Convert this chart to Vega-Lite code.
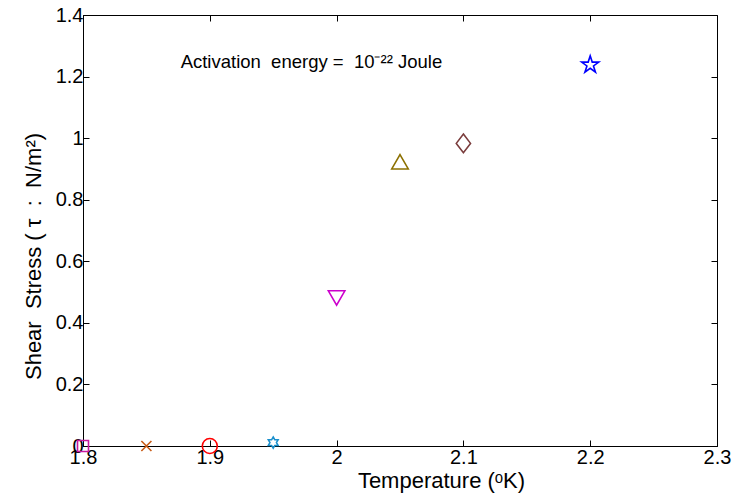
{
  "$schema": "https://vega.github.io/schema/vega-lite/v6.json",
  "width": 634,
  "height": 431,
  "autosize": {"type": "none"},
  "padding": {"left": 83, "top": 15, "right": 18, "bottom": 56},
  "background": "white",
  "config": {
    "view": {"stroke": "black", "strokeWidth": 1},
    "axis": {
      "domainColor": "black",
      "tickColor": "black",
      "labelColor": "black",
      "titleColor": "black",
      "labelFont": "Liberation Sans",
      "titleFont": "Liberation Sans",
      "labelFontSize": 20,
      "titleFontSize": 22,
      "titleFontWeight": "normal",
      "labelFlush": false,
      "grid": false,
      "tickSize": -6,
      "tickWidth": 1,
      "zindex": 1
    }
  },
  "resolve": {"axis": {"x": "independent", "y": "independent"}},
  "layer": [
    {
      "data": {
        "values": [
          {"T": 1.8, "tau": 0.0, "marker": "square"},
          {"T": 1.85, "tau": 0.0, "marker": "x"},
          {"T": 1.9, "tau": 0.0, "marker": "circle"},
          {"T": 1.95, "tau": 0.011, "marker": "hexagram"},
          {"T": 2.0, "tau": 0.487, "marker": "triangle-down"},
          {"T": 2.05, "tau": 0.917, "marker": "triangle-up"},
          {"T": 2.1, "tau": 0.983, "marker": "diamond"},
          {"T": 2.2, "tau": 1.238, "marker": "pentagram"}
        ]
      },
      "mark": {"type": "point", "filled": false, "strokeWidth": 1.6, "size": 225, "opacity": 1},
      "encoding": {
        "x": {
          "field": "T", "type": "quantitative",
          "scale": {"domain": [1.8, 2.3], "nice": false, "zero": false},
          "axis": {"orient": "bottom", "values": [1.8, 1.9, 2.0, 2.1, 2.2, 2.3], "format": "~g", "labelPadding": 7, "title": "Temperature (ᵒK)", "titleX": 358, "titleY": 34, "titleBaseline": "middle", "titleAlign": "center"}
        },
        "y": {
          "field": "tau", "type": "quantitative",
          "scale": {"domain": [0, 1.4], "nice": false},
          "axis": {"orient": "left", "values": [0, 0.2, 0.4, 0.6, 0.8, 1.0, 1.2, 1.4], "format": "~g", "labelPadding": 6, "title": "Shear\u00a0\u00a0Stress\u00a0(\u00a0τ\u00a0\u00a0:\u00a0\u00a0N/m²)", "titleX": -50, "titleY": 241, "titleBaseline": "middle", "titleAlign": "center", "titleAngle": -90}
        },
        "shape": {
          "field": "marker", "type": "nominal", "legend": null,
          "scale": {
            "domain": ["square", "x", "circle", "hexagram", "triangle-down", "triangle-up", "diamond", "pentagram"],
            "range": [
              "M-0.733,-0.733L0.733,-0.733L0.733,0.733L-0.733,0.733Z",
              "M-0.67,-0.67L0.67,0.67M-0.67,0.67L0.67,-0.67",
              "M1,0A1,1,0,1,1,-1,0A1,1,0,1,1,1,0Z",
              "M0,-0.75L0.2165,-0.375L0.6495,-0.375L0.433,0L0.6495,0.375L0.2165,0.375L0,0.75L-0.2165,0.375L-0.6495,0.375L-0.433,0L-0.6495,-0.375L-0.2165,-0.375Z",
              "M-1.1,-0.7L1.1,-0.7L0,1.2Z",
              "M0,-1.2L1.1,0.7L-1.1,0.7Z",
              "M0,-1.25L0.95,0L0,1.25L-0.95,0Z",
              "M0,-1.2L0.27,-0.372L1.141,-0.371L0.437,0.142L0.705,0.971L0,0.46L-0.705,0.971L-0.437,0.142L-1.141,-0.371L-0.27,-0.372Z"
            ]
          }
        },
        "color": {
          "field": "marker", "type": "nominal", "legend": null,
          "scale": {
            "domain": ["square", "x", "circle", "hexagram", "triangle-down", "triangle-up", "diamond", "pentagram"],
            "range": ["#C8189E", "#C85A14", "#FF0000", "#1A8FCC", "#CC00CC", "#8C7000", "#7A3C3C", "#0000FF"]
          }
        }
      }
    },
    {
      "data": {"values": [{"T": 1.877, "tau": 1.247, "label": "Activation\u00a0\u00a0energy\u00a0=\u00a0\u00a010⁻²²\u00a0Joule"}]},
      "mark": {"type": "text", "align": "left", "baseline": "middle", "font": "Liberation Sans", "fontSize": 18.5, "color": "black"},
      "encoding": {
        "x": {"field": "T", "type": "quantitative", "axis": null},
        "y": {"field": "tau", "type": "quantitative", "axis": null},
        "text": {"field": "label"}
      }
    },
    {
      "data": {"values": [{"T": 1.8, "tau": 0}]},
      "mark": {"type": "point", "opacity": 0},
      "encoding": {
        "x": {"field": "T", "type": "quantitative", "axis": {"orient": "top", "values": [1.8, 1.9, 2.0, 2.1, 2.2, 2.3], "labels": false, "title": null, "domain": false}},
        "y": {"field": "tau", "type": "quantitative", "axis": {"orient": "right", "values": [0, 0.2, 0.4, 0.6, 0.8, 1.0, 1.2, 1.4], "labels": false, "title": null, "domain": false}}
      }
    }
  ]
}
